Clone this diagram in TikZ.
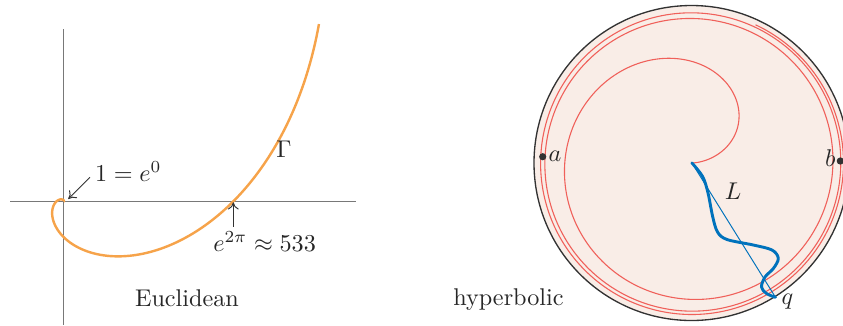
\documentclass[tikz,border=0pt]{standalone}
\usetikzlibrary{arrows.meta}
\definecolor{eorange}{RGB}{246,163,74}
\definecolor{hred}{RGB}{240,96,90}
\definecolor{hfill}{RGB}{249,237,231}
\definecolor{hblue}{RGB}{0,114,188}
\definecolor{axgray}{RGB}{120,120,120}
\definecolor{dk}{RGB}{50,50,50}
\begin{document}
\begin{tikzpicture}[x=0.4132pt,y=-0.4132pt,
  declare function={hs(\t)=1.5*\t*\t/(\t+0.1); hr(\t)=157.5*hs(\t)/(1+sqrt(1+hs(\t)*hs(\t)));},
  axisline/.style={draw=axgray,line width=0.5pt},
  eucl/.style={draw=eorange,line width=1pt},
  lblarrow/.style={draw=dk,line width=0.4pt,-{Computer Modern Rightarrow[length=3pt,width=4.5pt]}},
  lbl/.style={inner sep=0pt,outer sep=0pt,text=black!85},
  disk/.style={draw=dk,line width=0.55pt,fill=hfill},
  spir/.style={draw=hred,line width=0.45pt},
  chord/.style={draw=hblue,line width=0.4pt},
  geo/.style={draw=hblue,line width=1.2pt,line cap=round,line join=round},
  dotn/.style={fill=dk,draw=none}]
\useasboundingbox (0,0) rectangle (843,325);
% ---------- Euclidean ----------
\coordinate (xl) at (10,201.7);
\coordinate (xr) at (356,201.7);
\coordinate (yt) at (63.5,29);
\coordinate (yb) at (63.5,325);
\draw[axisline] (xl) -- (xr);
\draw[axisline] (yt) -- (yb);
\draw[eucl] plot[domain=0:6.898,samples=500] ({63.5+0.3165*exp(\x)*cos(\x r)},{201.7-0.3165*exp(\x)*sin(\x r)});
\node[lbl,anchor=base west] (oneLbl) at (95,181.7) {$1 = e^0$};
\coordinate (oneTail) at (90,177.3);
\coordinate (oneHead) at (68.3,199);
\draw[lblarrow] (oneTail) -- (oneHead);
\node[lbl,anchor=base west] (eLbl) at (213.3,251.7) {$e^{2\pi} \approx 533$};
\coordinate (eTail) at (233.3,226.7);
\coordinate (eHead) at (233.3,202.3);
\draw[lblarrow] (eTail) -- (eHead);
\node[lbl] (Gam) at (284,149) {$\Gamma$};
\node[lbl,anchor=base] (eucLbl) at (187,306) {Euclidean};
% ---------- hyperbolic ----------
\coordinate (C) at (691.5,163);
\draw[disk] (C) circle[radius=157.5];
\draw[spir] plot[domain=0:19.99,samples=900] ({691.5+hr(\x)*cos(\x r)},{163-hr(\x)*sin(\x r)});
\coordinate (O2) at (691.8,162.8);
\coordinate (q) at (775.5,297.3);
\draw[chord] (O2) -- (q);
\draw[geo] plot[smooth,tension=0.55] coordinates {(O2) (702.7,176.7) (708,193) (712.7,216.7) (717.5,232) (727,239.5) (753.3,245) (772,250) (778.3,258.3) (773.5,268.3) (765,277) (761.5,287) (766.5,293.5) (q)};
\fill[dotn] (542.7,156.7) circle[radius=3.6] coordinate (adot);
\fill[dotn] (840.3,161) circle[radius=3.6] coordinate (bdot);
\node[lbl,anchor=base] (aLbl) at (555,161.7) {$a$};
\node[lbl,anchor=base] (bLbl) at (830.3,166.7) {$b$};
\node[lbl] (LLbl) at (733,191.5) {$L$};
\node[lbl,anchor=base] (qLbl) at (787.5,304) {$q$};
\node[lbl,anchor=base] (hypLbl) at (508.5,305) {hyperbolic};
\end{tikzpicture}
\end{document}
